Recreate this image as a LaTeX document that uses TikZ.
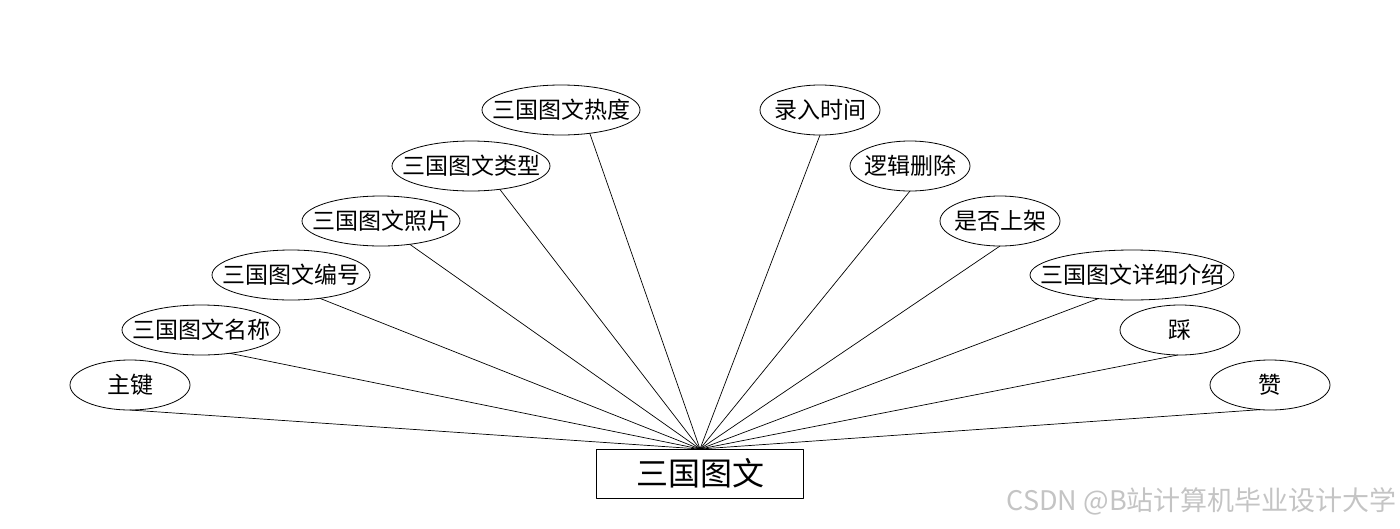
\documentclass[tikz,border=0pt]{standalone}
\usepackage{fontspec}
\setmainfont{Noto Sans CJK SC}
\usetikzlibrary{shapes.geometric}
\definecolor{ink}{HTML}{000000}
\definecolor{wmgray}{HTML}{C4C4C4}
\tikzset{el/.style={line cap=round, line join=round}}

\begin{document}
\begin{tikzpicture}[el, x=1pt, y=-1pt,
     attr/.style={ellipse, draw=ink, line width=0.8pt, inner sep=0pt, outer sep=0pt,
        minimum width=120, minimum height=50, font=\fontsize{23}{25}\selectfont},
     wide/.style={attr, minimum width=158},
     ent/.style={draw=ink, line width=0.8pt, minimum width=207, minimum height=49,
        inner sep=0pt, outer sep=0pt, font=\fontsize{32}{34}\selectfont},
     ln/.style={ink, line width=0.7pt}]
     \useasboundingbox (0,0) rectangle (1400,528);
     \node[ent] (e) at (700,473.5) {三国图文};
     % left side
     \node[attr] (zj) at (130,385) {\makebox[0pt]{主键}};
     \node[wide] (mc) at (201,330) {\makebox[0pt]{三国图文名称}};
     \node[wide] (bh) at (291,275) {\makebox[0pt]{三国图文编号}};
     \node[wide] (zp) at (381,221) {\makebox[0pt]{三国图文照片}};
     \node[wide] (lx) at (471,166) {\makebox[0pt]{三国图文类型}};
     \node[wide] (rd) at (561,110) {\makebox[0pt]{三国图文热度}};
     % right side
     \node[attr] (lr) at (820,110) {\makebox[0pt]{录入时间}};
     \node[attr] (sc) at (910,166) {\makebox[0pt]{逻辑删除}};
     \node[attr] (sj) at (1000,221) {\makebox[0pt]{是否上架}};
     \node[attr, minimum width=204] (js) at (1132,275) {\makebox[0pt]{三国图文详细介绍}};
     \node[attr] (cai) at (1180,330) {\makebox[0pt]{踩}};
     \node[attr] (zan) at (1270,385) {\makebox[0pt]{赞}};
     \draw[ln] (zj.south)--(e.north);\draw[ln] (mc.-39)--(e.north);
     \draw[ln] (bh.-39)--(e.north);\draw[ln] (zp.-39)--(e.north);
     \draw[ln] (lx.-39)--(e.north);\draw[ln] (rd.-39)--(e.north);
     \draw[ln] (lr.south)--(e.north);\draw[ln] (sc.south)--(e.north);
     \draw[ln] (sj.south)--(e.north);\draw[ln] (js.-145)--(e.north);
     \draw[ln] (cai.-95)--(e.north);\draw[ln] (zan.-112)--(e.north);
     \node[wmgray, anchor=east, inner sep=0pt, font=\fontsize{27}{29}\selectfont] (wm) at (1397,501) {CSDN @B站计算机毕业设计大学};
  \end{tikzpicture}
\end{document}
